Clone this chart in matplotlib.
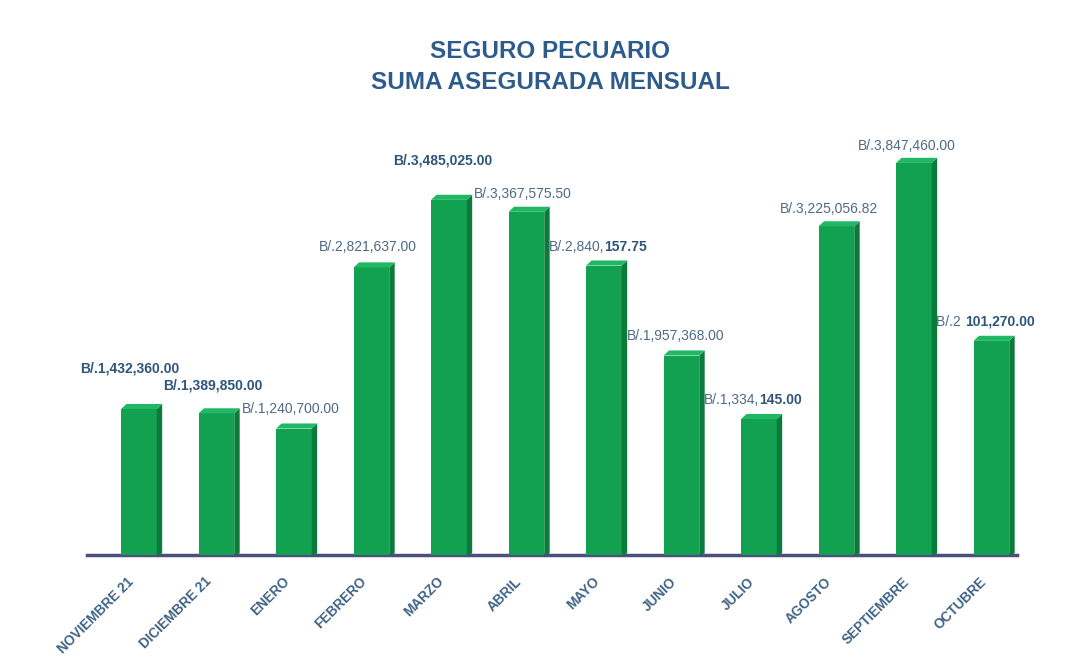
import matplotlib
matplotlib.use("Agg")
import matplotlib.pyplot as plt
from matplotlib.patches import Polygon
from matplotlib.transforms import ScaledTranslation

months = ["NOVIEMBRE 21", "DICIEMBRE 21", "ENERO", "FEBRERO", "MARZO", "ABRIL",
          "MAYO", "JUNIO", "JULIO", "AGOSTO", "SEPTIEMBRE", "OCTUBRE"]
values = [1432360.00, 1389850.00, 1240700.00, 2821637.00, 3485025.00, 3367575.50,
          2840157.75, 1957368.00, 1334145.00, 3225056.82, 3847460.00, 2101270.00]
labels = ["B/.1,432,360.00", "B/.1,389,850.00", "B/.1,240,700.00", "B/.2,821,637.00",
          "B/.3,485,025.00", "B/.3,367,575.50", "B/.2,840,157.75", "B/.1,957,368.00",
          "B/.1,334,145.00", "B/.3,225,056.82", "B/.3,847,460.00", "B/.2 101,270.00"]

# styling (offsets in pixels relative to bar top centre)
label_dx = [-9, -4, -3, -4, -6, -4, -6, -6, -6, -7, -7, -6]
label_dy = [41, 28, 20, 20, 39, 18, 19, 20, 19, 17, 17, 19]
# number of leading characters drawn in normal weight; rest bold
label_split = [0, 0, 15, 15, 0, 15, 9, 15, 9, 15, 15, 5]

font = "Liberation Sans"
c_bold = "#2f557a"
c_norm = "#4f6a86"

fig = plt.figure(figsize=(10.79, 6.66), dpi=100)
fig.patch.set_facecolor("white")
ax = fig.add_axes([87 / 1079, 1 - 555 / 666, 930 / 1079, (555 - 127) / 666])
ax.set_xlim(-0.67, 11.33)
ax.set_ylim(0, 4.2e6)

w = 0.46
dx = 0.07
dy = 50000
front = "#11a150"
side = "#0b7a3b"
top = "#20b865"
x = list(range(len(values)))
ax.bar(x, values, width=w, color=front, zorder=3)
for xi, v in zip(x, values):
    r = xi + w / 2
    l = xi - w / 2
    ax.add_patch(Polygon([(r, 0), (r + dx, dy * 0.3), (r + dx, v + dy), (r, v)],
                         closed=True, facecolor=side, edgecolor="none", zorder=3))
    ax.add_patch(Polygon([(l, v), (l + dx, v + dy), (r + dx, v + dy), (r, v)],
                         closed=True, facecolor=top, edgecolor="none", zorder=3))

renderer = fig.canvas.get_renderer()
for xi, v, t, ddx, ddy, sp in zip(x, values, labels, label_dx, label_dy, label_split):
    p1, p2 = t[:sp], t[sp:]
    parts = []
    if p1:
        parts.append((p1, "normal", c_norm))
    if p2:
        parts.append((p2, "bold", c_bold))
    widths = []
    for s, wt, c in parts:
        tmp = fig.text(0, 0, s, fontsize=10, family=font, fontweight=wt)
        widths.append(tmp.get_window_extent(renderer).width)
        tmp.remove()
    total = sum(widths)
    start = ddx - total / 2
    for (s, wt, c), wd in zip(parts, widths):
        ax.annotate(s, (xi, v), xytext=(start, ddy), textcoords="offset pixels",
                    ha="left", va="center", fontsize=10, family=font,
                    fontweight=wt, color=c, zorder=5)
        start += wd

for s in ["top", "right", "left"]:
    ax.spines[s].set_visible(False)
ax.spines["bottom"].set_color("#4b4f7c")
ax.spines["bottom"].set_linewidth(2.5)
ax.set_yticks([])
ax.set_xticks(x)
ax.set_xticklabels(months, rotation=45, ha="right", rotation_mode="anchor",
                   fontsize=9.8, family=font, fontweight="bold", color="#3f6385")
ax.tick_params(axis="x", length=0, pad=14)
shift = ScaledTranslation(-12 / 100, 0, fig.dpi_scale_trans)
for lab in ax.get_xticklabels():
    lab.set_transform(lab.get_transform() + shift)

fig.text(550 / 1079, 1 - 67 / 666, "SEGURO PECUARIO\nSUMA ASEGURADA MENSUAL",
         ha="center", va="center", fontsize=17.5, fontweight="bold", family=font,
         color="#2d5b8c", linespacing=1.4)

fig.savefig("out.png", dpi=100, facecolor="white")
